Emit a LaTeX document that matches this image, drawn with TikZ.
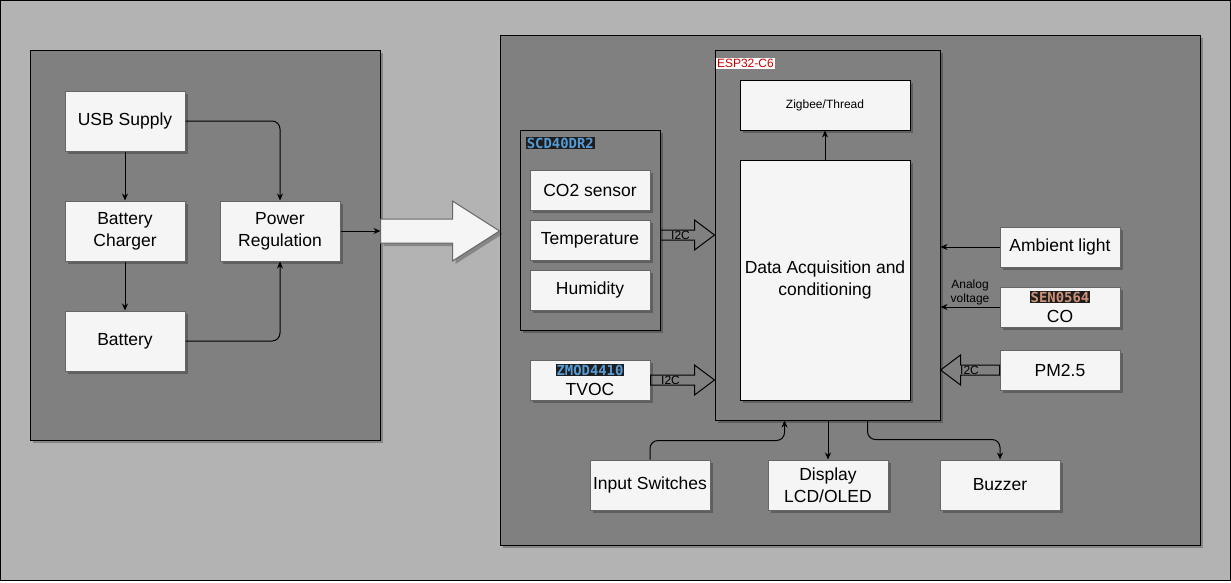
\documentclass[tikz,border=0pt]{standalone}
\usepackage{fontspec}
\setmainfont{Liberation Sans}
\newfontfamily\codefont{DejaVu Sans Mono}
\usetikzlibrary{calc,shadows,arrows.meta}

\definecolor{pagebg}{HTML}{B3B3B3}
\definecolor{panelbg}{HTML}{808080}
\definecolor{boxfill}{HTML}{F5F5F5}
\definecolor{boxline}{HTML}{666666}
\definecolor{codebg}{HTML}{1E1E1E}
\definecolor{codeblue}{HTML}{569CD6}
\definecolor{codeorange}{HTML}{CE9178}
\definecolor{esplabel}{HTML}{CC0000}

% part numbers, printed like code
\newcommand{\codetag}[2]{{\setlength\fboxsep{0.8pt}\colorbox{codebg}{\codefont\bfseries\fontsize{13.9}{15}\selectfont\color{#1}#2}}}

% hollow/filled block arrow: [style]{from}{to}{half shaft}{half head}{head length}
\newcommand{\fatarrow}[6][]{%
  \draw[fat,#1] let \p1=(#2), \p2=(#3) in
    ({\x1},{\y1+#4}) -- ({\x2-(#6)},{\y1+#4}) -- ({\x2-(#6)},{\y1+#5}) -- ({\x2},{\y1})
    -- ({\x2-(#6)},{\y1-#5}) -- ({\x2-(#6)},{\y1-#4}) -- ({\x1},{\y1-#4}) -- cycle;}

\tikzset{
  shade box/.style={drop shadow={shadow xshift=3pt,shadow yshift=-3pt,fill=black,opacity=0.25}},
  big text/.style={font=\fontsize{17.5}{22}\selectfont},
  small text/.style={font=\fontsize{12}{14}\selectfont},
  block/.style={shade box,draw=boxline,fill=boxfill,minimum width=120pt,
    minimum height=60pt,inner sep=1pt,align=center,big text},
  panel/.style={shade box,draw=black,fill=panelbg,inner sep=0pt},
  wire/.style={draw=black,rounded corners=8pt,-{Stealth[length=7pt,width=6pt]}},
  fat/.style={draw=black,line join=miter},
}

\begin{document}
\begin{tikzpicture}[x=1pt,y=-1pt,line width=1pt]
    \useasboundingbox (0,0) rectangle (1231,582);
    \path[draw=black,fill=pagebg] (0.5,0.5) rectangle (1230.5,580.5);

    % power side
    \node[panel,minimum width=350pt,minimum height=390pt] (power panel) at (205,245) {};
    \node[block] (usb)       at (125,121) {USB Supply};
    \node[block] (charger)   at (125,231) {Battery\\Charger};
    \node[block] (battery)   at (125,341) {Battery};
    \node[block] (regulator) at (280,231) {Power\\Regulation};

    \draw[wire] (usb) -- (charger);
    \draw[wire] (charger) -- (battery);
    \draw[wire] (usb) -| (regulator);
    \draw[wire] (battery) -| (regulator);
    \draw[wire] (regulator) -- (regulator -| power panel.east);

    % sensor side
    \node[panel,minimum width=700pt,minimum height=510pt] (sensor panel) at (850,290) {};
    \fatarrow[draw=boxline,fill=boxfill,shade box]{regulator -| power panel.east}{regulator -| sensor panel.west}{12pt}{30pt}{47pt}

    \node[panel,minimum width=140pt,minimum height=200pt] (scd) at (590,230) {};
    \node[anchor=north west,inner sep=0pt] (scd tag) at ($(scd.north west)+(6,7)$) {\codetag{codeblue}{SCD40DR2}};
    \node[block,minimum height=40pt] (co2)  at (590,190) {CO2 sensor};
    \node[block,minimum height=40pt] (temp) at (590,240) {Temperature};
    \node[block,minimum height=40pt] (hum)  at (590,290) {Humidity};

    \node[panel,minimum width=225pt,minimum height=370pt] (esp) at (827.5,235) {};
    \node[anchor=north west,fill=white,text=esplabel,small text,inner sep=1pt] (esp tag)
         at ($(esp.north west)+(1,8)$) {ESP32-C6};
    \node[block,draw=black,minimum width=170pt,minimum height=50pt,small text] (zigbee) at (825,105) {Zigbee/Thread};
    \node[block,draw=black,minimum width=170pt,minimum height=240pt] (daq) at (825,280) {Data Acquisition and\\conditioning};
    \draw[wire] (daq) -- (zigbee);

    \node[block,minimum height=40pt] (tvoc) at (590,380) {\codetag{codeblue}{ZMOD4410}\\[-2pt]TVOC};

    % I2C links into the ESP32
    \fatarrow{scd.east |- esp.west}{esp.west}{5pt}{15pt}{20pt}
    \node[small text,inner sep=0pt] (i2c scd) at ($(scd.east |- esp.west)+(20,0)$) {I2C};
    \fatarrow{tvoc.east}{tvoc.east -| esp.west}{5pt}{15pt}{20pt}
    \node[small text,inner sep=0pt] (i2c tvoc) at ($(tvoc.east)+(20,0)$) {I2C};

    \node[block,minimum height=40pt] (ambient) at (1060,247) {Ambient light};
    \node[block,minimum height=40pt] (co)      at (1060,307) {\codetag{codeorange}{SEN0564}\\[-2pt]CO};
    \node[block,minimum height=40pt] (pm)      at (1060,370) {PM2.5};

    \draw[wire] (ambient) -- (ambient -| esp.east);
    \draw[wire] (co) -- (co -| esp.east)
        node[midway,above,small text,align=center,inner sep=2pt] (analog) {Analog\\voltage};
    \fatarrow{pm.west}{pm.west -| esp.east}{5pt}{15pt}{-20pt}
    \node[small text,inner sep=0pt] (i2c pm) at ($(pm.west)+(-30,0)$) {I2C};

    % user interface
    \node[block,minimum height=50pt] (switches) at (650,485) {Input Switches};
    \node[block,minimum height=50pt] (display)  at (828,485) {Display\\LCD/OLED};
    \node[block,minimum height=50pt] (buzzer)   at (1000,485) {Buzzer};

    \draw[wire] (switches.north) |- ($(esp.south)+(-43,20)$) -- ($(esp.south)+(-43,0)$);
    \draw[wire] (esp.south -| display) -- (display);
    \draw[wire] ($(esp.south)+(40,0)$) |- ($(buzzer.north)+(0,-20)$) -- (buzzer.north);
\end{tikzpicture}
\end{document}
